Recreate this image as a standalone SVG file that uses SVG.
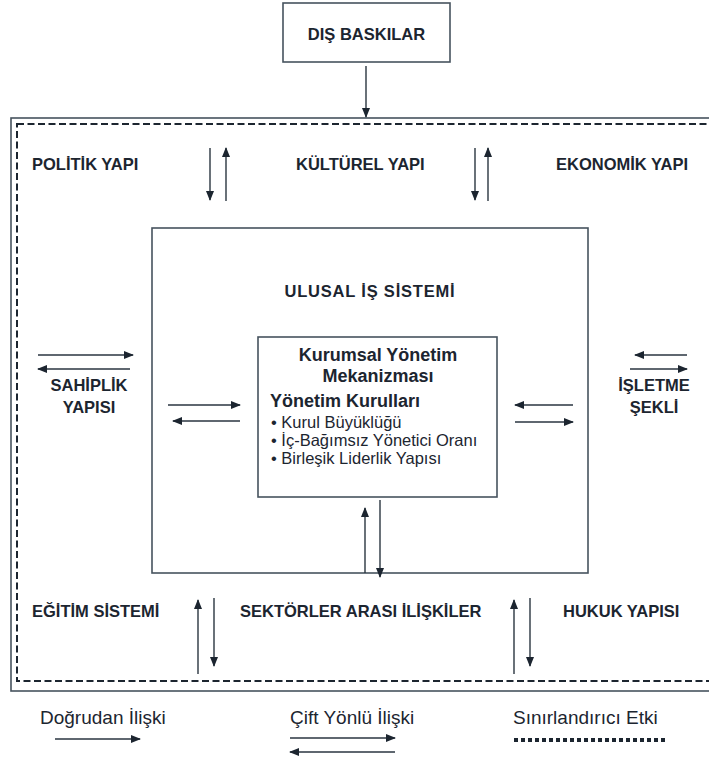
<svg xmlns="http://www.w3.org/2000/svg" width="709" height="760" viewBox="0 0 709 760">
<defs>
<marker id="ah" markerWidth="10" markerHeight="8" refX="9" refY="4" orient="auto" markerUnits="userSpaceOnUse">
<path d="M0,0 L10,4 L0,8 Z" fill="#1c2530"/>
</marker>
<style>
.box{fill:#fff;stroke:#46535e;stroke-width:1.6}
.dash{fill:none;stroke:#1c2530;stroke-width:2;stroke-dasharray:7,3.5}
.lbl{font-family:"Liberation Sans",Arial,sans-serif;font-weight:bold;font-size:16.5px;fill:#1c2530}
.t{font-family:"Liberation Sans",Arial,sans-serif;fill:#1c2530}
.ar{stroke:#2a3540;stroke-width:1.4;fill:none;marker-end:url(#ah)}
</style>
</defs>
<rect width="709" height="760" fill="#fff"/>
<g id="dis-baskilar">
<rect class="box" x="283" y="3" width="167" height="59"/>
<text class="lbl" x="366.5" y="40" text-anchor="middle" font-size="16.5">DIŞ BASKILAR</text>
</g>
<g id="cevre">
<rect class="box" x="11" y="118" width="720" height="573" fill="none"/>
<rect class="dash" x="17" y="124" width="710" height="557"/>
<text class="lbl" x="32" y="170">POLİTİK YAPI</text>
<text class="lbl" x="296" y="170">KÜLTÜREL YAPI</text>
<text class="lbl" x="556" y="170">EKONOMİK YAPI</text>
<text class="lbl" x="89" y="391" text-anchor="middle">SAHİPLİK</text>
<text class="lbl" x="89" y="413" text-anchor="middle">YAPISI</text>
<text class="lbl" x="654" y="391" text-anchor="middle">İŞLETME</text>
<text class="lbl" x="654" y="413" text-anchor="middle">ŞEKLİ</text>
<text class="lbl" x="32" y="617">EĞİTİM SİSTEMİ</text>
<text class="lbl" x="240" y="617">SEKTÖRLER ARASI İLİŞKİLER</text>
<text class="lbl" x="563" y="617">HUKUK YAPISI</text>
</g>
<g id="ulusal-is-sistemi">
<rect class="box" x="152" y="228" width="436" height="345"/>
<text class="lbl" x="370" y="297" text-anchor="middle" font-size="17" letter-spacing="0.8">ULUSAL İŞ SİSTEMİ</text>
</g>
<g id="kurumsal-yonetim">
<rect class="box" x="258" y="337" width="239" height="160"/>
<text class="t" x="378" y="361" text-anchor="middle" font-size="18" font-weight="bold">Kurumsal Yönetim</text>
<text class="t" x="378" y="382" text-anchor="middle" font-size="18" font-weight="bold">Mekanizması</text>
<text class="t" x="270" y="407" font-size="18" font-weight="bold">Yönetim Kurulları</text>
<text class="t" x="271" y="428" font-size="16.5">• Kurul Büyüklüğü</text>
<text class="t" x="271" y="446" font-size="16.5">• İç-Bağımsız Yönetici Oranı</text>
<text class="t" x="271" y="464" font-size="16.5">• Birleşik Liderlik Yapısı</text>
</g>
<g id="connectors">
<line class="ar" x1="366" y1="66" x2="366" y2="117"/>
<line class="ar" x1="210" y1="148" x2="210" y2="200"/>
<line class="ar" x1="226" y1="201" x2="226" y2="148"/>
<line class="ar" x1="475" y1="148" x2="475" y2="200"/>
<line class="ar" x1="488" y1="201" x2="488" y2="148"/>
<line class="ar" x1="38" y1="355" x2="133" y2="355"/>
<line class="ar" x1="130" y1="369" x2="38" y2="369"/>
<line class="ar" x1="168" y1="405" x2="240" y2="405"/>
<line class="ar" x1="240" y1="421" x2="173" y2="421"/>
<line class="ar" x1="573" y1="405" x2="515" y2="405"/>
<line class="ar" x1="515" y1="422" x2="573" y2="422"/>
<line class="ar" x1="687" y1="355" x2="635" y2="355"/>
<line class="ar" x1="630" y1="369" x2="687" y2="369"/>
<line class="ar" x1="365" y1="573" x2="365" y2="508"/>
<line class="ar" x1="380" y1="500" x2="380" y2="577"/>
<line class="ar" x1="198" y1="674" x2="198" y2="600"/>
<line class="ar" x1="214" y1="598" x2="214" y2="666"/>
<line class="ar" x1="514" y1="674" x2="514" y2="600"/>
<line class="ar" x1="530" y1="598" x2="530" y2="666"/>
</g>
<g id="legend">
<text class="t" x="40" y="724" font-size="19">Doğrudan İlişki</text>
<line class="ar" x1="55" y1="739" x2="140" y2="739"/>
<text class="t" x="290" y="724" font-size="19">Çift Yönlü İlişki</text>
<line class="ar" x1="290" y1="738" x2="395" y2="738"/>
<line class="ar" x1="395" y1="752" x2="290" y2="752"/>
<text class="t" x="513" y="724" font-size="19">Sınırlandırıcı Etki</text>
<line x1="514" y1="740" x2="665" y2="740" stroke="#1c2530" stroke-width="4" stroke-dasharray="4,3"/>
</g>
</svg>
